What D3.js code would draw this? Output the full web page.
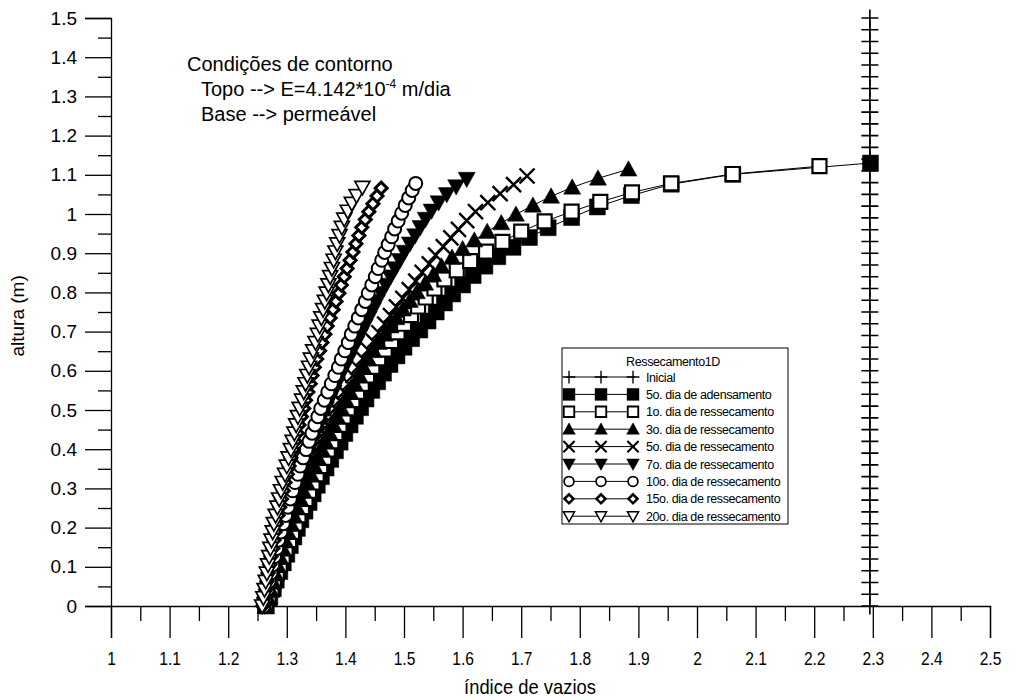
<!DOCTYPE html>
<html>
<head>
<meta charset="utf-8">
<script src="https://cdn.jsdelivr.net/npm/d3@7"></script>
<style>
  body { margin: 0; background: #fff; }
  svg { display: block; }
  text { font-family: "Liberation Sans", Arial, Helvetica, sans-serif; fill: #000; }
</style>
</head>
<body>
<svg id="chart" width="1017" height="700"></svg>
<script>
// ---- axis ticks ----
const xMajorTicks = [1, 1.1, 1.2, 1.3, 1.4, 1.5, 1.6, 1.7, 1.8, 1.9, 2, 2.1, 2.2, 2.3, 2.4, 2.5];
const xMinorTicks = [1.05, 1.15, 1.25, 1.35, 1.45, 1.55, 1.65, 1.75, 1.85, 1.95, 2.05, 2.15, 2.25, 2.35, 2.45];
const yMajorTicks = [0, 0.1, 0.2, 0.3, 0.4, 0.5, 0.6, 0.7, 0.8, 0.9, 1, 1.1, 1.2, 1.3, 1.4, 1.5];
const yMinorTicks = [0.05, 0.15, 0.25, 0.35, 0.45, 0.55, 0.65, 0.75, 0.85, 0.95, 1.05, 1.15, 1.25, 1.35, 1.45];

const xTitle = "índice de vazios";
const yTitle = "altura (m)";
const legendTitle = "Ressecamento1D";
const seriesNames = [
  "Inicial",
  "5o. dia de adensamento",
  "1o. dia de ressecamento",
  "3o. dia de ressecamento",
  "5o. dia de ressecamento",
  "7o. dia de ressecamento",
  "10o. dia de ressecamento",
  "15o. dia de ressecamento",
  "20o. dia de ressecamento"
];

// ---- profiles: altura (m) and índice de vazios ----
const inicialH = [0, 0.03, 0.06, 0.09, 0.12, 0.15, 0.18, 0.21, 0.24, 0.27, 0.30, 0.33, 0.36, 0.39, 0.42, 0.45, 0.48, 0.51,
  0.54, 0.57, 0.60, 0.63, 0.66, 0.69, 0.72, 0.75, 0.78, 0.81, 0.84, 0.87, 0.90, 0.93, 0.96, 0.99, 1.02, 1.05, 1.08,
  1.11, 1.14, 1.17, 1.20, 1.23, 1.26, 1.29, 1.32, 1.35, 1.38, 1.41, 1.44, 1.47, 1.50];
const inicialE = [2.295, 2.295, 2.295, 2.295, 2.295, 2.295, 2.295, 2.295, 2.295, 2.295, 2.295, 2.295, 2.295, 2.295,
  2.295, 2.295, 2.295, 2.295, 2.295, 2.295, 2.295, 2.295, 2.295, 2.295, 2.295, 2.295, 2.295, 2.295, 2.295, 2.295,
  2.295, 2.295, 2.295, 2.295, 2.295, 2.295, 2.295, 2.295, 2.295, 2.295, 2.295, 2.295, 2.295, 2.295, 2.295, 2.295,
  2.295, 2.295, 2.295, 2.295, 2.295];

const adens5H = [0, 0.022, 0.044, 0.066, 0.088, 0.110, 0.132, 0.154, 0.176, 0.198, 0.220, 0.242, 0.264, 0.286, 0.308,
  0.330, 0.352, 0.374, 0.396, 0.418, 0.440, 0.462, 0.484, 0.506, 0.528, 0.550, 0.572, 0.594, 0.616, 0.638, 0.660,
  0.682, 0.704, 0.727, 0.750, 0.773, 0.796, 0.819, 0.843, 0.867, 0.891, 0.915, 0.940, 0.965, 0.991, 1.018, 1.047,
  1.076, 1.101, 1.130];
const adens5E = [1.265, 1.271, 1.277, 1.282, 1.288, 1.294, 1.300, 1.306, 1.312, 1.318, 1.324, 1.331, 1.338, 1.345,
  1.352, 1.359, 1.367, 1.375, 1.383, 1.391, 1.399, 1.408, 1.417, 1.426, 1.435, 1.445, 1.455, 1.465, 1.476, 1.488,
  1.500, 1.513, 1.527, 1.541, 1.555, 1.569, 1.583, 1.600, 1.618, 1.638, 1.660, 1.686, 1.714, 1.746, 1.786, 1.830,
  1.888, 1.956, 2.061, 2.296];

const ress1H = [0, 0.021, 0.042, 0.063, 0.084, 0.105, 0.126, 0.147, 0.168, 0.189, 0.210, 0.231, 0.252, 0.273, 0.294,
  0.315, 0.336, 0.357, 0.378, 0.399, 0.420, 0.441, 0.462, 0.483, 0.504, 0.525, 0.546, 0.567, 0.588, 0.610, 0.632,
  0.654, 0.676, 0.698, 0.720, 0.742, 0.764, 0.787, 0.810, 0.833, 0.856, 0.880, 0.904, 0.929, 0.955, 0.981, 1.006,
  1.031, 1.055, 1.078, 1.102, 1.122];
const ress1E = [1.264, 1.269, 1.274, 1.278, 1.283, 1.288, 1.293, 1.298, 1.304, 1.309, 1.315, 1.320, 1.326, 1.332,
  1.338, 1.344, 1.351, 1.357, 1.364, 1.370, 1.376, 1.383, 1.390, 1.397, 1.404, 1.412, 1.420, 1.428, 1.437, 1.446,
  1.456, 1.467, 1.478, 1.489, 1.500, 1.512, 1.524, 1.537, 1.552, 1.569, 1.590, 1.613, 1.640, 1.668, 1.700, 1.740,
  1.786, 1.835, 1.889, 1.956, 2.061, 2.209];

const ress3H = [0, 0.021, 0.042, 0.063, 0.084, 0.105, 0.126, 0.147, 0.168, 0.189, 0.210, 0.231, 0.252, 0.273, 0.294,
  0.315, 0.336, 0.357, 0.378, 0.399, 0.420, 0.441, 0.462, 0.483, 0.504, 0.525, 0.546, 0.567, 0.588, 0.609, 0.630,
  0.651, 0.672, 0.693, 0.714, 0.735, 0.757, 0.779, 0.801, 0.823, 0.845, 0.867, 0.889, 0.911, 0.933, 0.955, 0.977,
  0.999, 1.022, 1.045, 1.068, 1.091, 1.114];
const ress3E = [1.264, 1.268, 1.272, 1.276, 1.280, 1.284, 1.288, 1.293, 1.297, 1.302, 1.307, 1.312, 1.317, 1.323,
  1.328, 1.334, 1.341, 1.347, 1.353, 1.360, 1.366, 1.373, 1.380, 1.386, 1.393, 1.401, 1.408, 1.416, 1.424, 1.431,
  1.439, 1.448, 1.457, 1.467, 1.477, 1.487, 1.498, 1.510, 1.522, 1.536, 1.550, 1.564, 1.582, 1.600, 1.620, 1.642,
  1.666, 1.691, 1.720, 1.751, 1.787, 1.831, 1.883];

const ress5H = [0, 0.021, 0.042, 0.063, 0.084, 0.105, 0.126, 0.147, 0.168, 0.189, 0.210, 0.231, 0.252, 0.273, 0.294,
  0.315, 0.336, 0.357, 0.378, 0.399, 0.420, 0.441, 0.462, 0.483, 0.504, 0.525, 0.546, 0.567, 0.588, 0.609, 0.631,
  0.653, 0.675, 0.697, 0.719, 0.741, 0.763, 0.785, 0.807, 0.829, 0.851, 0.873, 0.895, 0.917, 0.939, 0.961, 0.983,
  1.006, 1.029, 1.052, 1.075, 1.097];
const ress5E = [1.263, 1.266, 1.270, 1.273, 1.276, 1.280, 1.284, 1.288, 1.292, 1.296, 1.300, 1.305, 1.310, 1.315,
  1.320, 1.326, 1.332, 1.338, 1.344, 1.350, 1.356, 1.363, 1.370, 1.377, 1.383, 1.391, 1.398, 1.406, 1.413, 1.421,
  1.430, 1.439, 1.448, 1.457, 1.467, 1.477, 1.487, 1.498, 1.509, 1.520, 1.531, 1.543, 1.554, 1.567, 1.580, 1.593,
  1.607, 1.622, 1.643, 1.664, 1.687, 1.710];

const ress7H = [0, 0.021, 0.042, 0.063, 0.084, 0.105, 0.126, 0.147, 0.168, 0.189, 0.210, 0.231, 0.252, 0.273, 0.294,
  0.315, 0.336, 0.357, 0.378, 0.399, 0.420, 0.441, 0.462, 0.483, 0.504, 0.525, 0.546, 0.567, 0.588, 0.609, 0.630,
  0.651, 0.672, 0.693, 0.714, 0.735, 0.756, 0.777, 0.798, 0.819, 0.840, 0.861, 0.882, 0.903, 0.924, 0.945, 0.966,
  0.987, 1.008, 1.029, 1.050, 1.070, 1.089];
const ress7E = [1.262, 1.265, 1.268, 1.271, 1.274, 1.277, 1.281, 1.284, 1.288, 1.292, 1.296, 1.300, 1.305, 1.309,
  1.314, 1.318, 1.323, 1.328, 1.334, 1.339, 1.344, 1.350, 1.356, 1.361, 1.367, 1.373, 1.380, 1.386, 1.392, 1.399,
  1.406, 1.412, 1.419, 1.426, 1.433, 1.440, 1.447, 1.454, 1.461, 1.469, 1.477, 1.485, 1.493, 1.501, 1.510, 1.519,
  1.528, 1.537, 1.547, 1.559, 1.573, 1.589, 1.607];

const ress10H = [0, 0.021, 0.042, 0.063, 0.084, 0.105, 0.126, 0.147, 0.168, 0.189, 0.210, 0.231, 0.252, 0.273, 0.294,
  0.315, 0.336, 0.357, 0.378, 0.399, 0.420, 0.441, 0.462, 0.483, 0.504, 0.525, 0.546, 0.567, 0.588, 0.609, 0.630,
  0.651, 0.672, 0.693, 0.714, 0.735, 0.756, 0.777, 0.798, 0.819, 0.840, 0.861, 0.882, 0.902, 0.922, 0.942, 0.962,
  0.982, 1.002, 1.022, 1.041, 1.060, 1.078];
const ress10E = [1.261, 1.264, 1.267, 1.270, 1.273, 1.276, 1.279, 1.283, 1.286, 1.290, 1.294, 1.298, 1.302, 1.306,
  1.310, 1.314, 1.319, 1.323, 1.328, 1.333, 1.338, 1.343, 1.348, 1.353, 1.358, 1.364, 1.370, 1.376, 1.382, 1.388,
  1.393, 1.399, 1.405, 1.410, 1.416, 1.422, 1.428, 1.434, 1.439, 1.445, 1.451, 1.456, 1.462, 1.467, 1.473, 1.479,
  1.484, 1.490, 1.496, 1.502, 1.508, 1.514, 1.520];

const ress15H = [0, 0.021, 0.042, 0.063, 0.084, 0.105, 0.126, 0.147, 0.168, 0.189, 0.210, 0.231, 0.252, 0.273, 0.294,
  0.315, 0.336, 0.357, 0.378, 0.399, 0.420, 0.441, 0.462, 0.483, 0.504, 0.525, 0.546, 0.567, 0.588, 0.609, 0.630,
  0.651, 0.672, 0.693, 0.714, 0.735, 0.756, 0.777, 0.798, 0.819, 0.840, 0.861, 0.882, 0.903, 0.924, 0.945, 0.966,
  0.986, 1.006, 1.026, 1.046, 1.066];
const ress15E = [1.259, 1.261, 1.264, 1.266, 1.268, 1.271, 1.273, 1.276, 1.278, 1.280, 1.282, 1.285, 1.288, 1.291,
  1.294, 1.297, 1.301, 1.304, 1.307, 1.311, 1.314, 1.318, 1.321, 1.325, 1.329, 1.332, 1.336, 1.340, 1.343, 1.347,
  1.351, 1.356, 1.360, 1.365, 1.369, 1.374, 1.379, 1.384, 1.389, 1.393, 1.398, 1.403, 1.408, 1.413, 1.418, 1.423,
  1.428, 1.434, 1.440, 1.447, 1.454, 1.461];

const ress20H = [0, 0.021, 0.042, 0.063, 0.084, 0.105, 0.126, 0.147, 0.168, 0.189, 0.210, 0.231, 0.252, 0.273, 0.294,
  0.315, 0.336, 0.357, 0.378, 0.399, 0.420, 0.441, 0.462, 0.483, 0.504, 0.525, 0.546, 0.567, 0.588, 0.609, 0.630,
  0.651, 0.672, 0.693, 0.714, 0.735, 0.756, 0.777, 0.798, 0.819, 0.840, 0.861, 0.882, 0.903, 0.924, 0.945, 0.966,
  0.987, 1.007, 1.027, 1.047, 1.068];
const ress20E = [1.258, 1.260, 1.262, 1.264, 1.266, 1.268, 1.270, 1.272, 1.274, 1.276, 1.278, 1.281, 1.284, 1.287,
  1.290, 1.293, 1.297, 1.300, 1.303, 1.307, 1.310, 1.313, 1.316, 1.319, 1.322, 1.326, 1.329, 1.332, 1.335, 1.338,
  1.341, 1.345, 1.349, 1.353, 1.356, 1.359, 1.362, 1.365, 1.368, 1.371, 1.374, 1.377, 1.380, 1.383, 1.386, 1.390,
  1.394, 1.398, 1.404, 1.411, 1.419, 1.429];

// ---- marker shapes (custom d3 symbol types; size = half-width in px) ----
const symPlus = { draw(c, s) { c.moveTo(-s, 0); c.lineTo(s, 0); c.moveTo(0, -s); c.lineTo(0, s); } };
const symCross = { draw(c, s) { c.moveTo(-s, -s); c.lineTo(s, s); c.moveTo(-s, s); c.lineTo(s, -s); } };
const symSquare = { draw(c, s) { c.moveTo(-s, -s); c.lineTo(s, -s); c.lineTo(s, s); c.lineTo(-s, s); c.closePath(); } };
const symTriUp = { draw(c, s) { c.moveTo(0, -s); c.lineTo(s, s * 0.8); c.lineTo(-s, s * 0.8); c.closePath(); } };
const symTriDown = { draw(c, s) { c.moveTo(0, s); c.lineTo(s, -s * 0.8); c.lineTo(-s, -s * 0.8); c.closePath(); } };
const symDiamond = { draw(c, s) { c.moveTo(0, -s); c.lineTo(s, 0); c.lineTo(0, s); c.lineTo(-s, 0); c.closePath(); } };
const symCircle = { draw(c, s) { c.moveTo(s, 0); c.arc(0, 0, s, 0, 2 * Math.PI); } };

const series = [
  { name: seriesNames[0], h: inicialH, e: inicialE, sym: symPlus,    size: 8.5, fill: "none",  sw: 1.6 },
  { name: seriesNames[1], h: adens5H,  e: adens5E,  sym: symSquare,  size: 8,   fill: "#000",  sw: 0.5 },
  { name: seriesNames[2], h: ress1H,   e: ress1E,   sym: symSquare,  size: 7,   fill: "#fff",  sw: 2.2 },
  { name: seriesNames[3], h: ress3H,   e: ress3E,   sym: symTriUp,   size: 8.5, fill: "#000",  sw: 0.5 },
  { name: seriesNames[4], h: ress5H,   e: ress5E,   sym: symCross,   size: 7.5, fill: "none",  sw: 2.4 },
  { name: seriesNames[5], h: ress7H,   e: ress7E,   sym: symTriDown, size: 8.5, fill: "#000",  sw: 0.5 },
  { name: seriesNames[6], h: ress10H,  e: ress10E,  sym: symCircle,  size: 6.5, fill: "#fff",  sw: 2 },
  { name: seriesNames[7], h: ress15H,  e: ress15E,  sym: symDiamond, size: 6,   fill: "#fff",  sw: 3 },
  { name: seriesNames[8], h: ress20H,  e: ress20E,  sym: symTriDown, size: 7.5, fill: "#fff",  sw: 1.7 }
];

const svg = d3.select("#chart");
const x = d3.scaleLinear().domain([1, 2.5]).range([111, 990]);
const y = d3.scaleLinear().domain([0, 1.5]).range([606, 18]);
const fmt = d => String(+d.toFixed(2));

// ---- x axis (crosses at altura = 0) ----
const gxMinor = svg.append("g").attr("transform", `translate(0,${y(0)})`)
  .call(d3.axisBottom(x).tickValues(xMinorTicks).tickSize(15).tickFormat(""));
const gx = svg.append("g").attr("transform", `translate(0,${y(0)})`)
  .call(d3.axisBottom(x).tickValues(xMajorTicks).tickSize(32).tickPadding(14).tickFormat(fmt));
gx.selectAll("text").attr("font-size", 19).attr("transform", "scale(0.82,1)");
gxMinor.select(".domain").remove();

// ---- y axis (crosses at índice de vazios = 1) ----
const gyMinor = svg.append("g").attr("transform", `translate(${x(1)},0)`)
  .call(d3.axisLeft(y).tickValues(yMinorTicks).tickSize(13).tickFormat(""));
const gy = svg.append("g").attr("transform", `translate(${x(1)},0)`)
  .call(d3.axisLeft(y).tickValues(yMajorTicks).tickSize(26).tickPadding(8).tickFormat(fmt));
gy.selectAll("text").attr("font-size", 19);
gyMinor.select(".domain").remove();

svg.selectAll(".domain, .tick line").attr("stroke", "#000").attr("stroke-width", 1.3);
svg.selectAll(".tick text").attr("fill", "#000").attr("font-family", "Liberation Sans, Arial, sans-serif");

// axis titles
svg.append("text").attr("x", 530).attr("y", 694).attr("text-anchor", "middle")
  .attr("font-size", 20).attr("transform", "translate(530,0) scale(0.92,1) translate(-530,0)").text(xTitle);
svg.append("text").attr("transform", `translate(24,${y(0.74)}) rotate(-90)`).attr("text-anchor", "middle")
  .attr("font-size", 19).text(yTitle);

// ---- boundary conditions note ----
const note = svg.append("g");
note.append("text").attr("x", 187).attr("y", 71).attr("font-size", 20).text("Condições de contorno");
const l2 = note.append("text").attr("x", 201).attr("y", 96).attr("font-size", 20);
l2.append("tspan").text("Topo --> E=4.142*10");
l2.append("tspan").attr("font-size", 12).attr("dy", -8).text("-4");
l2.append("tspan").attr("dy", 8).text(" m/dia");
note.append("text").attr("x", 201).attr("y", 121).attr("font-size", 20).text("Base --> permeável");

// ---- series ----
const line = d3.line().x(d => x(d.e)).y(d => y(d.h));
series.forEach(s => {
  const pts = s.h.map((h, i) => ({ h, e: s.e[i] }));
  const g = svg.append("g");
  g.append("path").datum(pts).attr("d", line).attr("fill", "none").attr("stroke", "#000").attr("stroke-width", 1);
  const sym = d3.symbol().type(s.sym).size(s.size);
  g.selectAll("path.m").data(pts).join("path").attr("class", "m")
    .attr("transform", d => `translate(${x(d.e)},${y(d.h)})`)
    .attr("d", sym())
    .attr("fill", s.fill).attr("stroke", "#000").attr("stroke-width", s.sw);
});

// ---- legend ----
const lg = svg.append("g");
const lgLeft = 562, lgTop = 348, lgRight = 788, lgBottom = 524;
lg.append("rect").attr("x", lgLeft).attr("y", lgTop).attr("width", lgRight - lgLeft).attr("height", lgBottom - lgTop)
  .attr("fill", "#fff").attr("stroke", "#000").attr("stroke-width", 1);
lg.append("text").attr("x", 673).attr("y", 366).attr("text-anchor", "middle").attr("font-size", 12.5)
  .attr("letter-spacing", -0.4).text(legendTitle);
const sampleX = [569, 601, 633];
series.forEach((s, i) => {
  const ry = 377 + i * 17.4;
  lg.append("line").attr("x1", 566).attr("x2", 635).attr("y1", ry).attr("y2", ry)
    .attr("stroke", "#000").attr("stroke-width", 1);
  const sym = d3.symbol().type(s.sym).size(s.size * 0.75);
  sampleX.forEach(sx => {
    lg.append("path").attr("transform", `translate(${sx},${ry})`).attr("d", sym())
      .attr("fill", s.fill).attr("stroke", "#000").attr("stroke-width", s.sw * 0.85);
  });
  lg.append("text").attr("x", 646).attr("y", ry + 4.5).attr("font-size", 12.5)
    .attr("letter-spacing", -0.4).text(s.name);
});
</script>
</body>
</html>
